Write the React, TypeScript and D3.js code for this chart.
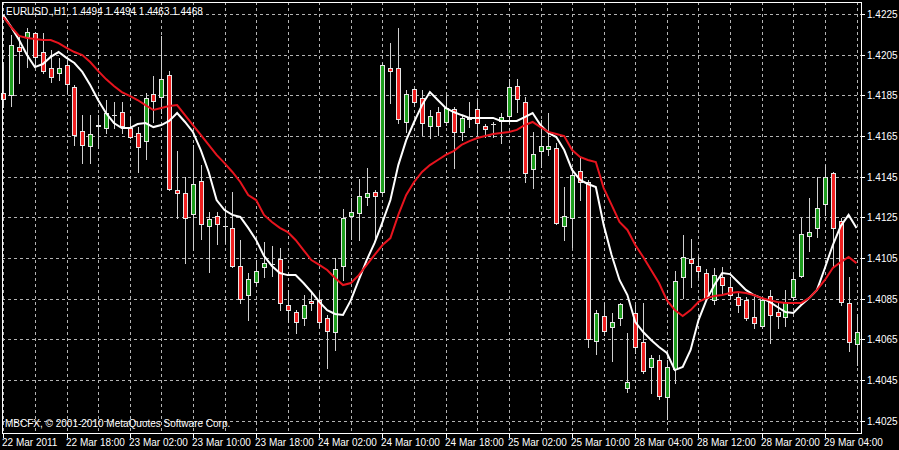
import React, { useEffect } from "react";
import * as d3 from "d3";

const opens = [
  1.41860, 1.41852, 1.42089, 1.42135, 1.42155, 1.42062, 1.41986, 1.41961, 1.41999, 1.41890,
  1.41676, 1.41601, 1.41700, 1.41688, 1.41752, 1.41770, 1.41688, 1.41666, 1.41627, 1.41857,
  1.41840, 1.41949, 1.41386, 1.41368, 1.41266, 1.41430, 1.41209, 1.41257, 1.41206, 1.41199,
  1.41010, 1.40868, 1.40933, 1.41007, 1.41020, 1.41044, 1.40819, 1.40783, 1.40754, 1.40839,
  1.40843, 1.40754, 1.40685, 1.41012, 1.41257, 1.41270, 1.41348, 1.41376, 1.41373, 1.41986,
  1.41986, 1.41720, 1.41880, 1.41838, 1.41699, 1.41770, 1.41720, 1.41781, 1.41671, 1.41736,
  1.41781, 1.41701, 1.41708, 1.41725, 1.41748, 1.41897, 1.41819, 1.41486, 1.41578, 1.41586,
  1.41590, 1.41207, 1.41245, 1.41479, 1.41425, 1.40643, 1.40765, 1.40712, 1.40754, 1.40409,
  1.40778, 1.40638, 1.40515, 1.40548, 1.40365, 1.40503, 1.40958, 1.41044, 1.41012, 1.40978,
  1.40843, 1.40958, 1.40909, 1.40860, 1.40843, 1.40761, 1.40716, 1.40863, 1.40783, 1.40758,
  1.40857, 1.40961, 1.41158, 1.41196, 1.41316, 1.41470, 1.41234, 1.40827, 1.40627,
];
const highs = [
  1.42015, 1.42147, 1.42138, 1.42180, 1.42163, 1.42155, 1.42073, 1.42032, 1.42024, 1.41901,
  1.41753, 1.41753, 1.41753, 1.41827, 1.41819, 1.41819, 1.41745, 1.41696, 1.41860, 1.41945,
  1.42142, 1.41971, 1.41578, 1.41450, 1.41606, 1.41507, 1.41278, 1.41278, 1.41290, 1.41376,
  1.41139, 1.40975, 1.41040, 1.41130, 1.41109, 1.41098, 1.40893, 1.40794, 1.40868, 1.40876,
  1.40884, 1.40770, 1.41049, 1.41290, 1.41344, 1.41437, 1.41491, 1.41384, 1.42009, 1.42106,
  1.42180, 1.41876, 1.41884, 1.41876, 1.41778, 1.41794, 1.41852, 1.41794, 1.41753, 1.41819,
  1.41827, 1.41709, 1.41720, 1.41762, 1.41929, 1.41929, 1.41840, 1.41671, 1.41729, 1.41762,
  1.41614, 1.41398, 1.41491, 1.41540, 1.41434, 1.40794, 1.40827, 1.40778, 1.40827, 1.40680,
  1.40819, 1.40827, 1.40573, 1.40573, 1.40548, 1.40988, 1.41163, 1.41142, 1.41060, 1.40994,
  1.40999, 1.41007, 1.40958, 1.40884, 1.40860, 1.40860, 1.40852, 1.40893, 1.40835, 1.40893,
  1.40983, 1.41245, 1.41344, 1.41450, 1.41507, 1.41474, 1.41245, 1.40958, 1.40775,
];
const lows = [
  1.41793, 1.41798, 1.41909, 1.41991, 1.41999, 1.41962, 1.41917, 1.41925, 1.41860, 1.41606,
  1.41516, 1.41516, 1.41590, 1.41663, 1.41688, 1.41663, 1.41639, 1.41474, 1.41535, 1.41720,
  1.41762, 1.41384, 1.41245, 1.41024, 1.41089, 1.41142, 1.40983, 1.41119, 1.41122, 1.41007,
  1.40827, 1.40745, 1.40917, 1.40958, 1.40961, 1.40794, 1.40737, 1.40683, 1.40721, 1.40794,
  1.40712, 1.40508, 1.40598, 1.40942, 1.41142, 1.41138, 1.41311, 1.41143, 1.41368, 1.41811,
  1.41712, 1.41671, 1.41798, 1.41655, 1.41639, 1.41655, 1.41704, 1.41491, 1.41630, 1.41696,
  1.41655, 1.41647, 1.41647, 1.41614, 1.41712, 1.41770, 1.41425, 1.41393, 1.41499, 1.41557,
  1.41217, 1.41139, 1.41106, 1.41335, 1.40614, 1.40578, 1.40671, 1.40545, 1.40721, 1.40392,
  1.40584, 1.40483, 1.40385, 1.40355, 1.40257, 1.40434, 1.40852, 1.40906, 1.40955, 1.40843,
  1.40824, 1.40876, 1.40852, 1.40786, 1.40745, 1.40704, 1.40704, 1.40631, 1.40704, 1.40716,
  1.40843, 1.40955, 1.41086, 1.41155, 1.41262, 1.41007, 1.40819, 1.40594, 1.40524,
];
const closes = [
  1.41830, 1.42098, 1.42070, 1.42160, 1.42040, 1.41968, 1.41939, 1.41986, 1.41906, 1.41655,
  1.41606, 1.41658, 1.41702, 1.41762, 1.41754, 1.41699, 1.41647, 1.41597, 1.41838, 1.41822,
  1.41929, 1.41391, 1.41371, 1.41245, 1.41412, 1.41217, 1.41240, 1.41217, 1.41208, 1.41012,
  1.40847, 1.40945, 1.40988, 1.41027, 1.41022, 1.40827, 1.40794, 1.40734, 1.40819, 1.40827,
  1.40734, 1.40692, 1.40994, 1.41245, 1.41278, 1.41355, 1.41368, 1.41355, 1.41999, 1.41970,
  1.41732, 1.41857, 1.41819, 1.41712, 1.41750, 1.41699, 1.41786, 1.41670, 1.41737, 1.41738,
  1.41712, 1.41684, 1.41710, 1.41742, 1.41890, 1.41830, 1.41470, 1.41560, 1.41601, 1.41602,
  1.41220, 1.41257, 1.41458, 1.41425, 1.40650, 1.40778, 1.40692, 1.40737, 1.40822, 1.40442,
  1.40614, 1.40496, 1.40557, 1.40371, 1.40515, 1.40937, 1.41056, 1.41024, 1.40988, 1.40852,
  1.40966, 1.40917, 1.40868, 1.40819, 1.40754, 1.40729, 1.40843, 1.40770, 1.40766, 1.40835,
  1.40945, 1.41166, 1.41179, 1.41295, 1.41450, 1.41196, 1.40835, 1.40638, 1.40687,
];
const maFast = [
  1.42245, 1.42186, 1.42122, 1.42048, 1.41989, 1.42004, 1.42039, 1.42063, 1.42034, 1.42009,
  1.41965, 1.41901, 1.41827, 1.41763, 1.41714, 1.41689, 1.41689, 1.41709, 1.41714, 1.41694,
  1.41704, 1.41724, 1.41763, 1.41719, 1.41670, 1.41581, 1.41473, 1.41335, 1.41286, 1.41262,
  1.41252, 1.41198, 1.41139, 1.41060, 1.41011, 1.40976, 1.40966, 1.40966, 1.40927, 1.40883,
  1.40834, 1.40794, 1.40775, 1.40770, 1.40843, 1.40942, 1.41040, 1.41124, 1.41227, 1.41335,
  1.41507, 1.41630, 1.41719, 1.41802, 1.41866, 1.41827, 1.41788, 1.41768, 1.41753, 1.41739,
  1.41739, 1.41739, 1.41739, 1.41724, 1.41724, 1.41724, 1.41743, 1.41763, 1.41704, 1.41665,
  1.41645, 1.41581, 1.41483, 1.41434, 1.41414, 1.41399, 1.41212, 1.41065, 1.40942, 1.40868,
  1.40735, 1.40686, 1.40647, 1.40612, 1.40583, 1.40499, 1.40514, 1.40598, 1.40745, 1.40843,
  1.40917, 1.40976, 1.40971, 1.40932, 1.40893, 1.40868, 1.40853, 1.40834, 1.40809, 1.40784,
  1.40780, 1.40819, 1.40853, 1.40893, 1.41001, 1.41114, 1.41207, 1.41262, 1.41198,
];
const maSlow = [
  1.42235, 1.42186, 1.42142, 1.42132, 1.42127, 1.42122, 1.42122, 1.42107, 1.42083, 1.42063,
  1.42048, 1.42014, 1.41970, 1.41930, 1.41896, 1.41866, 1.41847, 1.41827, 1.41802, 1.41778,
  1.41788, 1.41798, 1.41802, 1.41753, 1.41704, 1.41655, 1.41606, 1.41557, 1.41517, 1.41473,
  1.41424, 1.41360, 1.41335, 1.41262, 1.41227, 1.41198, 1.41178, 1.41139, 1.41089, 1.41040,
  1.41016, 1.40991, 1.40952, 1.40917, 1.40927, 1.40966, 1.41016, 1.41065, 1.41114, 1.41148,
  1.41262, 1.41360, 1.41424, 1.41473, 1.41507, 1.41532, 1.41557, 1.41576, 1.41606, 1.41625,
  1.41640, 1.41650, 1.41660, 1.41665, 1.41670, 1.41680, 1.41704, 1.41719, 1.41694, 1.41670,
  1.41660, 1.41650, 1.41581, 1.41547, 1.41532, 1.41522, 1.41394, 1.41311, 1.41227, 1.41188,
  1.41114, 1.41055, 1.40991, 1.40927, 1.40843, 1.40794, 1.40765, 1.40794, 1.40834, 1.40853,
  1.40863, 1.40868, 1.40878, 1.40883, 1.40878, 1.40868, 1.40853, 1.40843, 1.40834, 1.40829,
  1.40829, 1.40829, 1.40853, 1.40893, 1.40942, 1.41001, 1.41030, 1.41055, 1.41025,
];
const priceTicks = [1.4225, 1.4205, 1.4185, 1.4165, 1.4145, 1.4125, 1.4105, 1.4085, 1.4065, 1.4045, 1.4025];
const timeLabels = [
  "22 Mar 2011", "22 Mar 18:00", "23 Mar 02:00", "23 Mar 10:00", "23 Mar 18:00",
  "24 Mar 02:00", "24 Mar 10:00", "24 Mar 18:00", "25 Mar 02:00", "25 Mar 10:00",
  "28 Mar 04:00", "28 Mar 12:00", "28 Mar 20:00", "29 Mar 04:00",
];
const title = "EURUSD.,H1  1.4494 1.4494 1.4463 1.4468";
const copyright = "MBCFX, \u00a9 2001-2010 MetaQuotes Software Corp.";

export default function App() {
  useEffect(() => {
    document.body.style.margin = "0";
    document.body.style.background = "#000";
  }, []);
  const W = 899, H = 450;
  const L = 2, R = 861, T = 2, B = 433;
  const n = opens.length;
  const x = d3.scaleLinear().domain([0, n - 1]).range([3.3, 856.5]);
  const y = d3.scaleLinear().domain([1.4025, 1.4225]).range([420.7, 14]);
  const px = (i: number) => Math.round(x(i));
  const py = (v: number) => Math.round(y(v));
  const font = "'Liberation Sans', Arial, sans-serif";
  const grid = "#b4b4b4";

  const vGrid: number[] = [];
  for (let i = 0; i < n; i += 4) vGrid.push(px(i));

  const line = d3.line<number>().x((_, i) => x(i)).y((v) => y(v));

  return (
    <svg width={W} height={H} style={{ position: "absolute", left: 0, top: 0, background: "#000", display: "block" }}>
      <rect x={0} y={0} width={W} height={H} fill="#000" />
      {priceTicks.map((p) => (
        <line key={"h" + p} x1={L} x2={R} y1={py(p) + 0.5} y2={py(p) + 0.5} stroke={grid} strokeDasharray="3,3" />
      ))}
      {vGrid.map((gx) => (
        <line key={"v" + gx} x1={gx + 0.5} x2={gx + 0.5} y1={T} y2={B} stroke={grid} strokeDasharray="3,3" />
      ))}
      {opens.map((o, i) => {
        const c = closes[i];
        const cx = px(i);
        const top = py(Math.max(o, c));
        const bot = py(Math.min(o, c));
        const up = c > o;
        return (
          <g key={"c" + i}>
            <line x1={cx + 0.5} x2={cx + 0.5} y1={py(highs[i])} y2={py(lows[i]) + 1} stroke="#d0d0d0" />
            {bot - top < 1 ? (
              <line x1={cx - 2} x2={cx + 3} y1={top + 0.5} y2={top + 0.5} stroke="#e0e0e0" />
            ) : (
              <rect x={cx - 2 + 0.5} y={top + 0.5} width={4} height={bot - top} fill={up ? "#1e9e1e" : "#f02020"} stroke="#e8e8e8" />
            )}
          </g>
        );
      })}
      <path d={line(maFast) || ""} fill="none" stroke="#ffffff" strokeWidth={2} />
      <path d={line(maSlow) || ""} fill="none" stroke="#e8141e" strokeWidth={2} />
      <rect x={L + 0.5} y={T + 0.5} width={R - L} height={B - T} fill="none" stroke="#ffffff" />
      {priceTicks.map((p) => (
        <g key={"p" + p}>
          <line x1={R} x2={R + 4} y1={py(p) + 0.5} y2={py(p) + 0.5} stroke="#ffffff" />
          <text x={R + 6} y={py(p) + 4} fill="#ffffff" fontSize={10} fontFamily={font}>{p.toFixed(4)}</text>
        </g>
      ))}
      {timeLabels.map((t, k) => {
        const tx = px(k * 8);
        return (
          <g key={"t" + k}>
            <line x1={tx + 0.5} x2={tx + 0.5} y1={B} y2={B + 5} stroke="#ffffff" />
            <text x={tx - 1} y={446} fill="#ffffff" fontSize={10} fontFamily={font}>{t}</text>
          </g>
        );
      })}
      <text x={6} y={15} fill="#ffffff" fontSize={10} fontFamily={font} style={{ whiteSpace: "pre" }}>{title}</text>
      <text x={5} y={427} fill="#ffffff" fontSize={10} fontFamily={font}>{copyright}</text>
    </svg>
  );
}
